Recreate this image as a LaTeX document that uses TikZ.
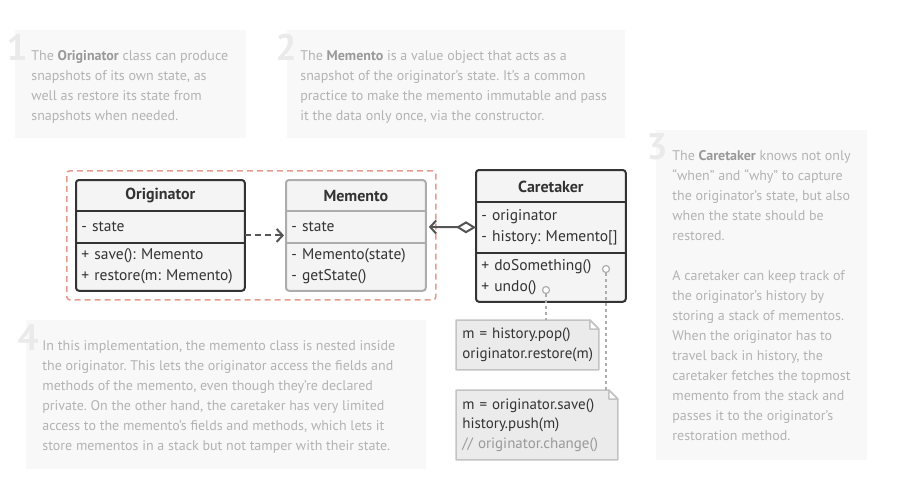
\documentclass[tikz,border=0pt]{standalone}
\usepackage{fontspec}
\setmainfont{PT Sans}
\frenchspacing
\usetikzlibrary{arrows.meta,backgrounds}
\definecolor{ink}{HTML}{333333}
\definecolor{txtgray}{HTML}{B3B3B3}
\definecolor{kwgray}{HTML}{999999}
\definecolor{numgray}{HTML}{EAEAEA}
\definecolor{panelbg}{HTML}{F8F8F8}
\definecolor{boxfill}{HTML}{F4F4F4}
\definecolor{softline}{HTML}{ADADAD}
\definecolor{nestred}{HTML}{E49C8F}
\definecolor{arrowgray}{HTML}{555555}
\definecolor{notefill}{HTML}{EBEBEB}
\definecolor{noteline}{HTML}{C3C3C3}
\definecolor{commentgray}{HTML}{999999}
\newcommand{\kw}[1]{\textcolor{kwgray}{\textbf{#1}}}
\tikzstyle{panel}=[rectangle, fill=panelbg, anchor=north west, inner sep=0pt]
\tikzstyle{explain}=[anchor=north west, inner sep=0pt, align=left, text=txtgray, font=\fontsize{14}{20}\selectfont]
\tikzstyle{bignum}=[anchor=base east, inner sep=0pt, text=numgray, font=\fontsize{37}{37}\selectfont\bfseries]
\tikzstyle{cell}=[anchor=north west, inner xsep=5pt, inner ysep=0pt, align=left, text=ink, font=\fontsize{15.5}{21}\selectfont]
\tikzstyle{head}=[cell, align=center, font=\fontsize{16}{18}\selectfont\bfseries]
\tikzstyle{frame}=[draw=ink, line width=2pt, fill=boxfill, rounded corners=3pt]
\tikzstyle{softframe}=[frame, draw=softline]
\tikzstyle{sep}=[draw=ink, line width=2pt]
\tikzstyle{softsep}=[draw=softline, line width=2pt]
\tikzstyle{nested}=[rectangle, draw=nestred, line width=1.6pt, dash pattern=on 6pt off 4pt, rounded corners=3pt, anchor=north west]
\tikzstyle{dep}=[draw=arrowgray, line width=2pt, dash pattern=on 6pt off 4pt, -{Straight Barb[length=6pt,width=13pt]}, shorten >=2pt]
\tikzstyle{agg}=[draw=arrowgray, line width=2pt, {Diamond[length=20pt,width=12pt,fill=white]}-{Straight Barb[length=6pt,width=13pt]}, shorten >=3pt]
\tikzstyle{port}=[circle, draw=softline, fill=white, line width=1.2pt, minimum size=7pt, inner sep=0pt]
\tikzstyle{link}=[draw=softline, line width=1.5pt, dash pattern=on 3pt off 3pt]
\tikzstyle{note}=[anchor=north west, inner xsep=6pt, inner ysep=0pt, align=left, text=ink, font=\fontsize{15}{19.5}\selectfont]
\tikzstyle{notefrm}=[draw=noteline, fill=notefill, line width=1.5pt, line join=round]

\begin{document}
\begin{tikzpicture}[x=1pt, y=-1pt, thick]
                    \useasboundingbox (0,0) rectangle (908,503);
                    \node[panel, minimum width=231pt, minimum height=108pt] (p1) at (15,30) {};
                    \node[panel, minimum width=338pt, minimum height=108pt] (p2) at (287,30) {};
                    \node[panel, minimum width=211pt, minimum height=330pt] (p3) at (656,130) {};
                    \node[panel, minimum width=400pt, minimum height=149pt] (p4) at (26,320) {};
                    \node[bignum] (n1) at (28,60) {1};
                    \node[bignum] (n2) at (297,60) {2};
                    \node[bignum] (n3) at (668,159) {3};
                    \node[bignum] (n4) at (39,350) {4};
                    \node[explain] (t1) at (31,46) {\strut The \kw{Originator} class can produce\\snapshots of its own state, as\\well as restore its state from\\snapshots when needed.};
                    \node[explain] (t2) at (300,46) {\strut The \kw{Memento} is a value object that acts as a\\snapshot of the originator’s state. It’s a common\\practice to make the memento immutable and pass\\it the data only once, via the constructor.};
                    \node[explain] (t3) at (672,146) {\strut The \kw{Caretaker} knows not only\\“when” and “why” to capture\\the originator’s state, but also\\when the state should be\\restored.\\[20pt]A caretaker can keep track of\\the originator’s history by\\storing a stack of mementos.\\When the originator has to\\travel back in history, the\\caretaker fetches the topmost\\memento from the stack and\\passes it to the originator’s\\restoration method.};
                    \node[explain] (t4) at (42,336) {\strut In this implementation, the memento class is nested inside\\the originator. This lets the originator access the fields and\\methods of the memento, even though they’re declared\\private. On the other hand, the caretaker has very limited\\access to the memento’s fields and methods, which lets it\\store mementos in a stack but not tamper with their state.};
                    \node[nested, minimum width=369pt, minimum height=129pt] (nest) at (66,170) {};
                    \node[head, text width=158pt, minimum height=31pt] (origh) at (76,180) {Originator};
                    \node[cell, text width=158pt, minimum height=31pt] (origa) at (76,211) {- state};
                    \node[cell, text width=158pt, minimum height=48pt] (origm) at (76,242) {+ save(): Memento\\+ restore(m: Memento)};
                    \node[head, text width=129pt, minimum height=31pt] (memh) at (286,180) {Memento};
                    \node[cell, text width=129pt, minimum height=31pt] (mema) at (286,211) {- state};
                    \node[cell, text width=129pt, minimum height=48pt] (memm) at (286,242) {- Memento(state)\\- getState()};
                    \node[head, text width=139pt, minimum height=32pt] (careh) at (476,170) {Caretaker};
                    \node[cell, text width=139pt, minimum height=50pt] (carea) at (476,202) {- originator\\- history: Memento[]};
                    \node[cell, text width=139pt, minimum height=49pt] (carem) at (476,252) {+ doSomething()\\+ undo()};
                    \begin{scope}[on background layer]
                    \draw[frame] (origh.north west) rectangle (origm.south east);
                    \draw[softframe] (memh.north west) rectangle (memm.south east);
                    \draw[frame] (careh.north west) rectangle (carem.south east);
                    \end{scope}
                    \draw[sep] (origa.north west)--(origa.north east) (origa.south west)--(origa.south east);
                    \draw[softsep] (mema.north west)--(mema.north east) (mema.south west)--(mema.south east);
                    \draw[sep] (carea.north west)--(carea.north east) (carea.south west)--(carea.south east);
                    \draw[dep] ([yshift=-8.5pt]origa.east)--([yshift=-8.5pt]mema.west);
                    \draw[agg] (carea.west)--(mema.east);
                    \node[note, text width=130pt, minimum height=49pt] (note1) at (456,320) {m = history.pop()\\originator.restore(m)};
                    \node[note, text width=149pt, minimum height=69pt] (note2) at (456,390) {m = originator.save()\\history.push(m)\\\textcolor{commentgray}{// originator.change()}};
                    \begin{scope}[on background layer]
                    \draw[notefrm] (note1.north west)--([xshift=-9pt]note1.north east)--([yshift=-9pt]note1.north east)--(note1.south east)--(note1.south west)--cycle;
                    \draw[notefrm] (note2.north west)--([xshift=-9pt]note2.north east)--([yshift=-9pt]note2.north east)--(note2.south east)--(note2.south west)--cycle;
                    \end{scope}
                    \draw[notefrm, fill=white] ([xshift=-9pt]note1.north east)|-([yshift=-9pt]note1.north east)--cycle;
                    \draw[notefrm, fill=white] ([xshift=-9pt]note2.north east)|-([yshift=-9pt]note2.north east)--cycle;
                    \node[port] (dosome) at (606,269) {};
                    \node[port] (undo) at (546,290) {};
                    \draw[link] (undo.south)--(undo.south |- note1.north);
                    \draw[link] (dosome.south)--(dosome.south |- note2.north);
                \end{tikzpicture}
\end{document}
